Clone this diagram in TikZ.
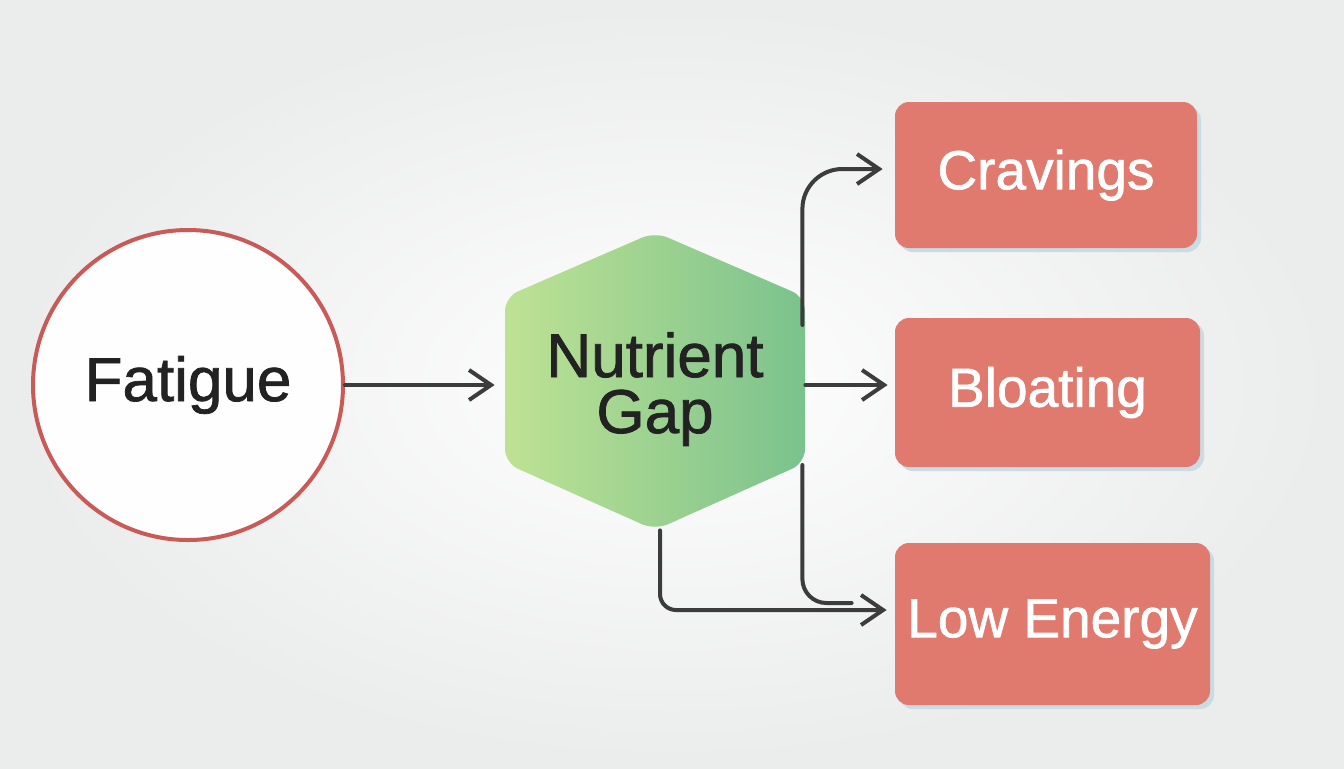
\documentclass[tikz,border=0pt]{standalone}
\usepackage{fontspec}
\setmainfont{Liberation Sans}
\newfontfamily\medsans[FakeBold=1.2]{Liberation Sans}
\usetikzlibrary{arrows.meta}
\definecolor{bgcol}{HTML}{EEEFEF}
\definecolor{ringred}{HTML}{C85A57}
\definecolor{boxred}{HTML}{E07A6F}
\definecolor{hexlight}{HTML}{BEE294}
\definecolor{hexdark}{HTML}{7BC28D}
\definecolor{linegray}{HTML}{3C3C3C}
\definecolor{txtdark}{HTML}{222222}
\definecolor{glow}{HTML}{C9DCE3}

\begin{document}
\begin{tikzpicture}[x=0.5pt,y=-0.5pt]
\tikzstyle{every node}+=[inner sep=0pt]
\tikzstyle{ring}=[circle,draw=ringred,line width=2pt,fill=white!96!bgcol,minimum size=155pt,
  font=\medsans\fontsize{31}{31}\selectfont,text=txtdark]
\tikzstyle{effect}=[rectangle,rounded corners=7pt,fill=boxred,text=white,
  font=\medsans\fontsize{27.5}{27.5}\selectfont]
\tikzstyle{link}=[draw=linegray,line width=2pt,line cap=round]
\tikzstyle{arr}=[link,-{Straight Barb[length=11pt,width=15pt]}]
\useasboundingbox (0,0) rectangle (1344,768);
\shade[inner color=white!97!bgcol,outer color=bgcol!97!gray] (0,0) rectangle (1344,768);
\shade[rounded corners=7pt,left color=hexlight,right color=hexdark]
  (655,232) -- (805,297) -- (805,463) -- (655,530) -- (505,463) -- (505,297) -- cycle;
\node[ring] (fatigue) at (188,385) {Fatigue};
\node[minimum width=150pt,minimum height=149pt,align=center,text=txtdark,
  font=\medsans\fontsize{31}{28}\selectfont] (gap) at (655,381) {};
\node[align=center,text=txtdark,font=\medsans\fontsize{31}{28}\selectfont] (gaptext)
  at ([yshift=-4pt]gap.center) {Nutrient\\Gap};
\fill[glow,rounded corners=7pt] (899,106) rectangle (1201,252);
\node[effect,minimum width=151pt,minimum height=73pt] (crav) at (1046,175) {Cravings};
\fill[glow,rounded corners=7pt] (899,322) rectangle (1204,471);
\node[effect,minimum width=152.5pt,minimum height=74.5pt] (bloat) at (1047.5,392.5) {Bloating};
\fill[glow,rounded corners=7pt] (899,547) rectangle (1214,709);
\node[effect,minimum width=157.5pt,minimum height=81pt] (low) at (1052.5,624) {Low Energy};
\draw[arr] (fatigue.east) -- ([xshift=-5pt]fatigue.east -| gap.west);
\draw[arr] ([yshift=-2pt]gap.east) -- ([shift={(-7,4)}]gap.east -| bloat.west);
\draw[arr,rounded corners=20pt] ([shift={(-3,-56)}]gap.east) |- ([shift={(-12,-6)}]crav.west);
\draw[link,rounded corners=12pt] ([shift={(-3,84)}]gap.east) |- ([shift={(-43,-21)}]low.west);
\draw[arr,rounded corners=8pt] ([xshift=2.5pt]gap.south) |- ([shift={(-8,-14)}]low.west);
\end{tikzpicture}
\end{document}
